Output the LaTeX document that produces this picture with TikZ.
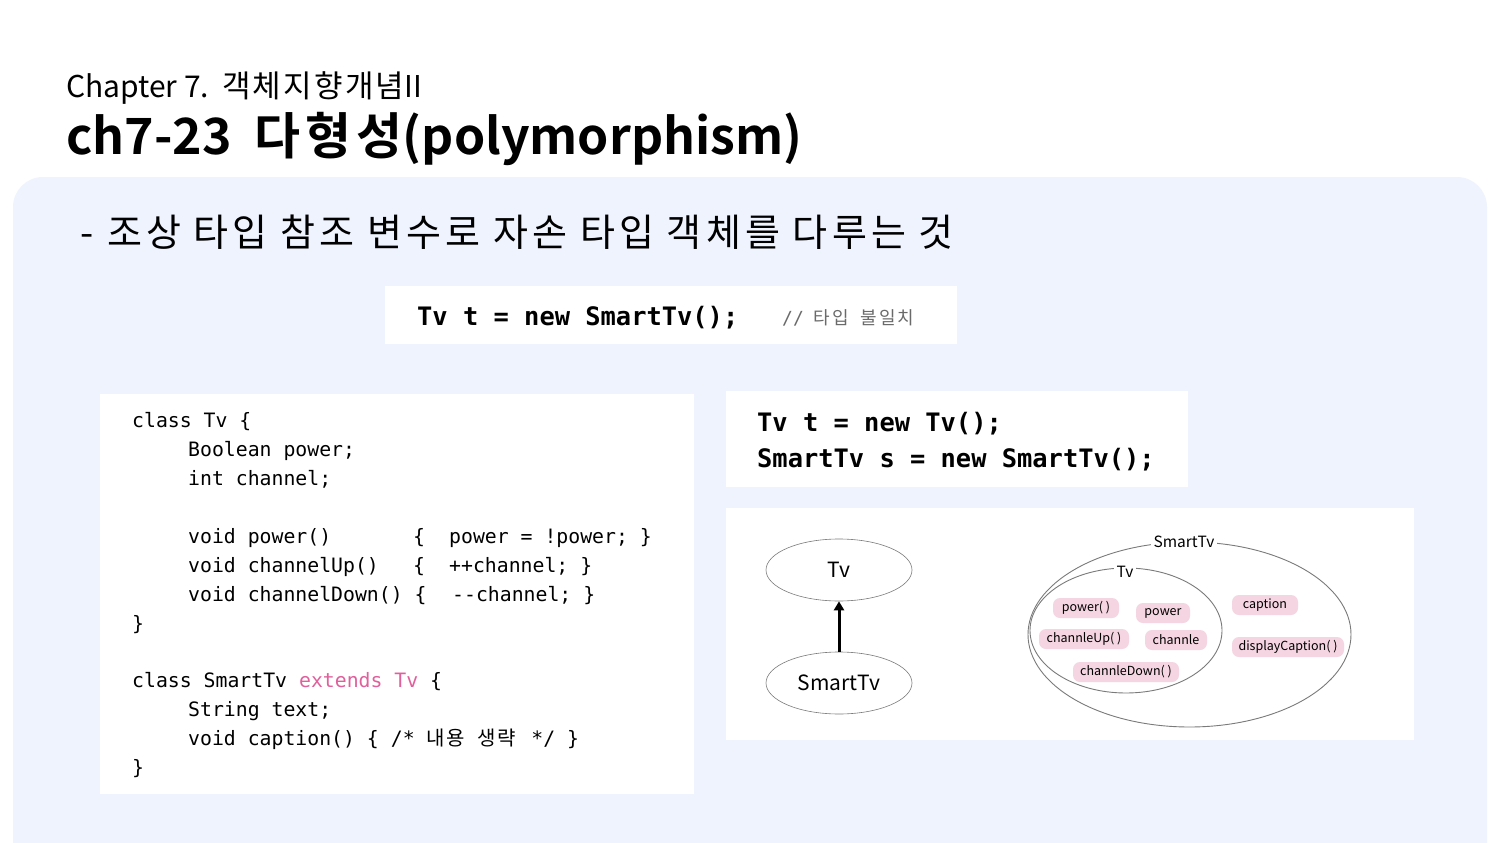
\documentclass[tikz,border=0pt]{standalone}
\usepackage{fontspec}
\usetikzlibrary{arrows.meta,shapes.geometric}
\newfontfamily\kr[BoldFont={Noto Sans CJK KR Bold}]{Noto Sans CJK KR}
\newfontfamily\cmono{DejaVu Sans Mono}
\newcommand{\ls}[1]{\addfontfeature{LetterSpace=#1}}
\definecolor{panelbg}{HTML}{EFF3FE}
\definecolor{pinkfill}{HTML}{F4D5E1}
\definecolor{extpink}{HTML}{E0609C}
\definecolor{linegray}{HTML}{7A7A7A}
\definecolor{cmtgray}{HTML}{6A6A6A}
\begin{document}
\begin{tikzpicture}[x=1pt,y=-1pt,
  codeline/.style={anchor=base west,inner sep=0pt,font=\cmono\fontsize{19.8}{24}\selectfont},
  boldcode/.style={anchor=base west,inner sep=0pt,font=\cmono\bfseries\fontsize{25.4}{30}\selectfont},
  pill/.style={fill=pinkfill,rounded corners=7pt,inner sep=0pt,minimum height=20pt,font=\kr\fontsize{12.5}{14}\selectfont},
  oval/.style={draw=linegray,line width=0.6pt,ellipse}]
\useasboundingbox (0,0) rectangle (1500,843);
\fill[white] (0,0) rectangle (1500,843);
% panel
\fill[panelbg] (13,843) [rounded corners=30pt] -- (13,177) -- (1487,177) [sharp corners] -- (1487,843) -- cycle;
% titles
\node[anchor=base west,inner sep=0pt,font=\kr\fontsize{30}{36}\selectfont] (chap) at (66,97) {Chapter 7.\hspace{4pt} {\fontsize{31}{36}\selectfont\ls{7}객체지향개념}II};
\node[anchor=base west,inner sep=0pt,font=\kr\bfseries\fontsize{50}{60}\selectfont] (title) at (66,154) {ch7-23\hspace{12pt} {\ls{10}다형성}(polymorphism)};
\node[anchor=base west,inner sep=0pt,font=\kr\fontsize{38}{44}\selectfont\ls{11}] (sub) at (80,246) {-\hspace{1pt} 조상 타입 참조 변수로 자손 타입 객체를 다루는 것};
% top code box
\fill[white] (385,286) rectangle (957,344);
\node[boldcode] (c1) at (417,325) {Tv t = new SmartTv();};
\node[anchor=base west,inner sep=0pt,text=cmtgray,font=\kr\fontsize{18}{22}\selectfont] (cmt) at (782,324) {{\cmono //}\hspace{6pt} {\ls{10}타입\hspace{6pt} 불일치}};
% left code box
\fill[white] (100,394) rectangle (694,794);
\node[codeline] (l1) at (132,427) {class Tv \{};
\node[codeline] (l2) at (188,456) {Boolean power;};
\node[codeline] (l3) at (188,485) {int channel;};
\node[codeline] (l4a) at (188,543) {void power()};
\node[codeline] (l4b) at (413,543) {\{};
\node[codeline] (l4c) at (449,543) {power = !power; \}};
\node[codeline] (l5a) at (188,572) {void channelUp()};
\node[codeline] (l5b) at (413,572) {\{};
\node[codeline] (l5c) at (449,572) {++channel; \}};
\node[codeline] (l6a) at (188,601) {void channelDown() \{};
\node[codeline] (l6c) at (452,601) {-{}-channel; \}};
\node[codeline] (l7) at (132,630) {\}};
\node[codeline] (l8) at (132,687) {class SmartTv \textcolor{extpink}{extends Tv} \{};
\node[codeline] (l9) at (188,716) {String text;};
\node[codeline] (l10) at (188,745) {void caption() \{ /* {\kr\fontsize{20}{24}\selectfont\ls{8}내용\hspace{6pt} 생략}\hspace{4pt} */ \}};
\node[codeline] (l11) at (132,774) {\}};
% second code box
\fill[white] (726,391) rectangle (1188,487);
\node[boldcode] (c2) at (757,431) {Tv t = new Tv();};
\node[boldcode] (c3) at (757,467) {SmartTv s = new SmartTv();};
% diagram box
\fill[white] (726,508) rectangle (1414,740);
\node[oval,minimum width=146pt,minimum height=62pt,inner sep=0pt,font=\kr\fontsize{21}{24}\selectfont] (tv) at (839,570) {Tv};
\node[oval,minimum width=146pt,minimum height=62pt,inner sep=0pt,font=\kr\fontsize{21}{24}\selectfont] (stv) at (839,683) {SmartTv};
\draw[line width=3pt,-{Triangle[length=9pt,width=10pt]}] (stv.north) -- (tv.south);
% nested ellipses
\draw[linegray,line width=0.9pt] (1189.5,634.5) ellipse[x radius=161.5,y radius=92.5];
\draw[linegray,line width=0.9pt] (1126,630.5) ellipse[x radius=96,y radius=62.5];
\node[fill=white,inner sep=3pt,font=\kr\fontsize{15.5}{18}\selectfont] (lblS) at (1184,542) {SmartTv};
\node[fill=white,inner sep=3pt,font=\kr\fontsize{15.5}{18}\selectfont] (lblT) at (1125,572) {Tv};
\node[pill,minimum width=66pt] (p1) at (1086,608) {power( )};
\node[pill,minimum width=54pt] (p2) at (1163,613) {power};
\node[pill,minimum width=90pt] (p3) at (1084,639) {channleUp( )};
\node[pill,minimum width=62pt] (p4) at (1176,640) {channle};
\node[pill,minimum width=106pt] (p5) at (1126,672) {channleDown( )};
\node[pill,minimum width=66pt] (p6) at (1265,605) {caption};
\node[pill,minimum width=112pt] (p7) at (1288,647) {displayCaption( )};
\end{tikzpicture}
\end{document}
